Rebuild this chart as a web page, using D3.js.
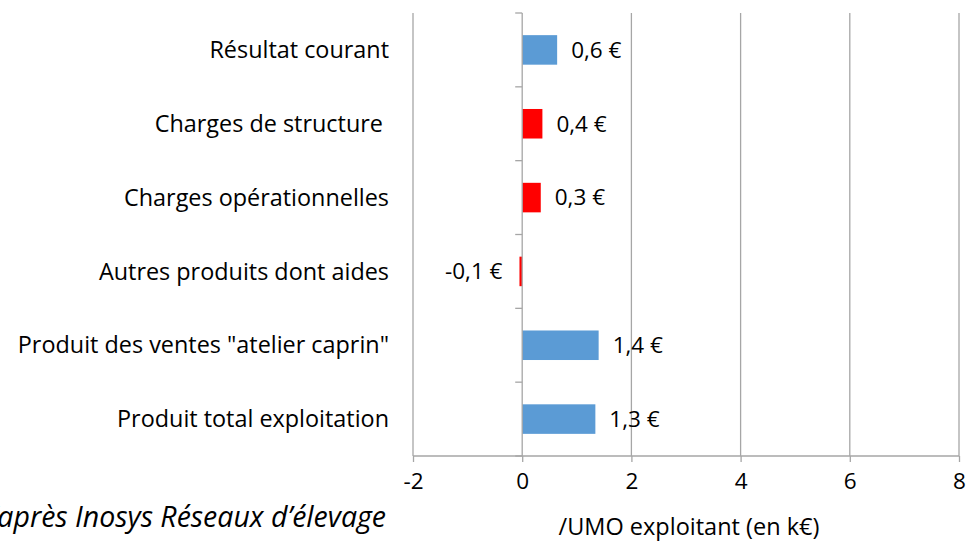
<!DOCTYPE html>
<html>
<head>
<meta charset="utf-8">
<script src="https://cdn.jsdelivr.net/npm/d3@7"></script>
<style>
  body { margin: 0; background: #fff; }
  svg { display: block; font-family: "Open Sans", sans-serif; }
  text { white-space: pre; }
</style>
</head>
<body>
<svg id="chart" width="979" height="542"></svg>
<script>
// categories listed bottom to top, as in the reference
const categories = [
  "Produit total exploitation",
  "Produit des ventes \"atelier caprin\"",
  "Autres produits dont aides",
  "Charges opérationnelles",
  "Charges de structure ",
  "Résultat courant"
];
const values = [1.34, 1.4, -0.05, 0.34, 0.37, 0.64];
const valueLabels = ["1,3 €", "1,4 €", "-0,1 €", "0,3 €", "0,4 €", "0,6 €"];
const barColors = ["#5b9bd5", "#5b9bd5", "#ff0000", "#ff0000", "#ff0000", "#5b9bd5"];
const xTicks = [-2, 0, 2, 4, 6, 8];

const svg = d3.select("#chart");
const marginLeft = 413, marginRight = 20, marginTop = 13, plotBottom = 456;
const width = 979;
const fontSize = 22.5;

const x = d3.scaleLinear().domain([-2, 8]).range([marginLeft, width - marginRight]);
const y = d3.scaleBand()
  .domain(categories.slice().reverse())
  .range([marginTop, plotBottom])
  .paddingInner(0.6)
  .paddingOuter(0.3);
const band = d3.scaleBand()
  .domain(categories.slice().reverse())
  .range([marginTop, plotBottom]);

const grid = "#a6a6a6";

// vertical gridlines
svg.append("g")
  .selectAll("line")
  .data(xTicks.filter((d) => d !== 0))
  .join("line")
  .attr("x1", (d) => x(d)).attr("x2", (d) => x(d))
  .attr("y1", marginTop).attr("y2", plotBottom)
  .attr("stroke", grid).attr("stroke-width", 1.3);

// bottom axis
const xAxis = svg.append("g")
  .attr("transform", `translate(0,${plotBottom})`)
  .call(d3.axisBottom(x).tickValues(xTicks).tickSize(6).tickPadding(11)
    .tickFormat((d) => String(d)));
xAxis.select(".domain").attr("stroke", grid).attr("stroke-width", 1.3)
  .attr("d", `M${x(-2)},0H${x(8)}`);
xAxis.selectAll(".tick line").attr("stroke", grid).attr("stroke-width", 1.3);
xAxis.selectAll(".tick text")
  .attr("font-size", fontSize).attr("fill", "#000")
  .attr("font-family", "'Open Sans', sans-serif");

// bars
svg.append("g")
  .selectAll("rect")
  .data(values)
  .join("rect")
  .attr("x", (d) => x(Math.min(0, d)))
  .attr("width", (d) => Math.abs(x(d) - x(0)))
  .attr("y", (d, i) => y(categories[i]))
  .attr("height", y.bandwidth())
  .attr("fill", (d, i) => barColors[i]);

// zero axis with category ticks
const zeroAxis = svg.append("g")
  .attr("transform", `translate(${x(0)},0)`);
zeroAxis.append("line")
  .attr("y1", marginTop).attr("y2", plotBottom)
  .attr("stroke", grid).attr("stroke-width", 1.3);
zeroAxis.selectAll("line.tick")
  .data(d3.range(categories.length + 1))
  .join("line")
  .attr("class", "tick")
  .attr("x1", -7).attr("x2", 0)
  .attr("y1", (i) => marginTop + i * band.step())
  .attr("y2", (i) => marginTop + i * band.step())
  .attr("stroke", grid).attr("stroke-width", 1.3);

// category labels
svg.append("g")
  .selectAll("text")
  .data(categories)
  .join("text")
  .attr("x", 389)
  .attr("y", (d) => band(d) + band.bandwidth() / 2)
  .attr("dy", "0.35em")
  .attr("text-anchor", "end")
  .attr("font-size", 23.4)
  .attr("fill", "#000")
  .text((d) => d);

// value labels
svg.append("g")
  .selectAll("text")
  .data(values)
  .join("text")
  .attr("x", (d) => d < 0 ? x(d) - 17 : x(d) + 14)
  .attr("y", (d, i) => y(categories[i]) + y.bandwidth() / 2)
  .attr("dy", "0.35em")
  .attr("text-anchor", (d) => d < 0 ? "end" : "start")
  .attr("font-size", fontSize)
  .attr("fill", "#000")
  .text((d, i) => valueLabels[i]);

// axis title
svg.append("text")
  .attr("x", 689).attr("y", 535)
  .attr("text-anchor", "middle")
  .attr("font-size", 23.5)
  .attr("fill", "#000")
  .text("/UMO exploitant (en k€)");

// source note
svg.append("text")
  .attr("x", 386).attr("y", 527)
  .attr("text-anchor", "end")
  .attr("font-size", 28.5)
  .attr("font-style", "italic")
  .attr("fill", "#000")
  .text("D’après Inosys Réseaux d’élevage");
</script>
</body>
</html>
